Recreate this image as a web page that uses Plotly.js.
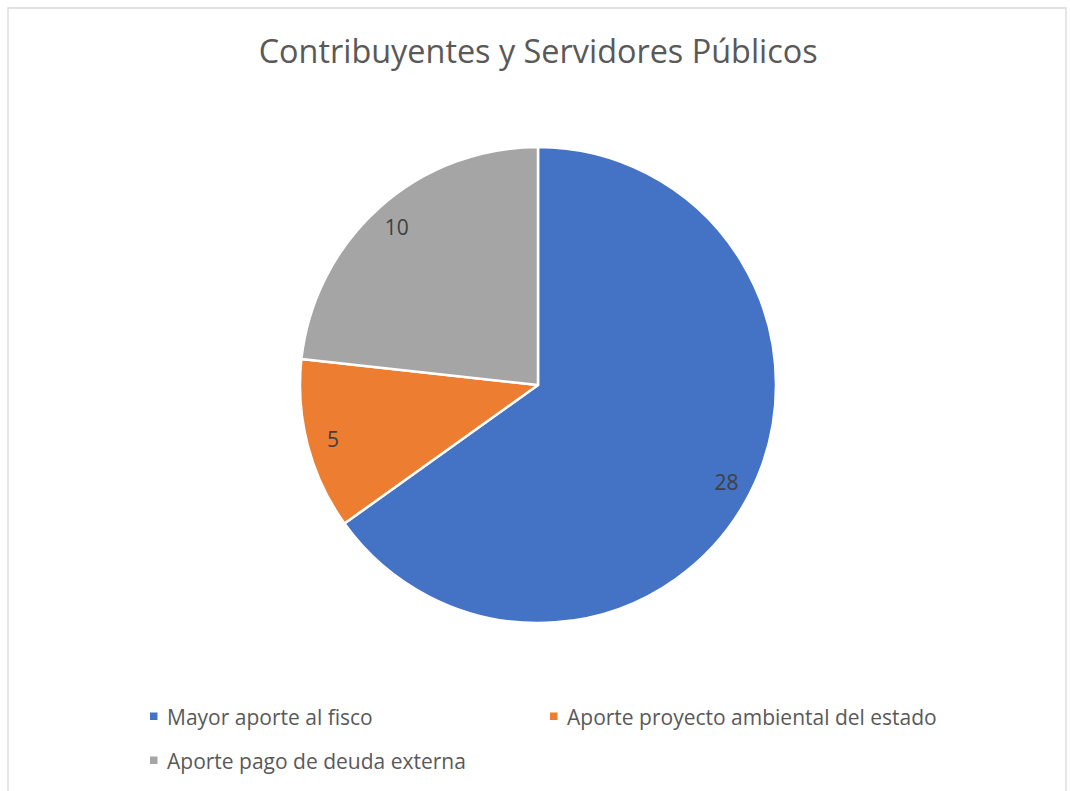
<!DOCTYPE html>
<html>
<head>
<meta charset="utf-8">
<script src="https://cdn.plot.ly/plotly-3.0.1.min.js"></script>
<style>
html,body{margin:0;padding:0;background:#fff;}
#chart{width:1070px;height:791px;}
</style>
</head>
<body>
<div id="chart"></div>
<script>
var categories = ["Mayor aporte al fisco", "Aporte proyecto ambiental del estado", "Aporte pago de deuda externa"];
var values = [28, 5, 10];
var colors = ["#4472C4", "#ED7D31", "#A5A5A5"];
var chartTitle = "Contribuyentes y Servidores Públicos";

var W = 1070, H = 791;
var FONT = "'Open Sans', 'Noto Sans', sans-serif";
function px(x){ return x / W; }
function py(y){ return 1 - y / H; }

var domain = {x: [px(300), px(776)], y: [py(623), py(147)]};

var pieTrace = {
  type: "pie",
  labels: categories,
  values: values,
  sort: false,
  direction: "clockwise",
  rotation: 0,
  domain: domain,
  marker: {colors: colors, line: {color: "#ffffff", width: 2.5}},
  textinfo: "none",
  hoverinfo: "label+value",
  showlegend: false
};

var labelRing = {
  type: "pie",
  labels: categories,
  values: values,
  sort: false,
  direction: "clockwise",
  rotation: 0,
  domain: domain,
  hole: 0.78,
  marker: {colors: categories.map(function(){return "rgba(0,0,0,0)";}), line: {width: 0}},
  textinfo: "value",
  textposition: "inside",
  insidetextorientation: "horizontal",
  textfont: {family: FONT, size: 21, color: "#404040"},
  hoverinfo: "skip",
  showlegend: false
};

// custom legend laid out like the reference (two columns)
var legendPos = [[150, 716], [550, 716], [150, 760]];
var shapes = [{
  type: "rect", xref: "paper", yref: "paper",
  x0: px(8), x1: px(1066), y0: py(800), y1: py(8),
  line: {color: "#D9D9D9", width: 1.3}, fillcolor: "rgba(0,0,0,0)"
}];
var annotations = [];
categories.forEach(function(c, i){
  var p = legendPos[i];
  shapes.push({
    type: "rect", xref: "paper", yref: "paper",
    x0: px(p[0]), x1: px(p[0] + 7.5), y0: py(p[1] + 4), y1: py(p[1] - 3.5),
    line: {width: 0}, fillcolor: colors[i]
  });
  annotations.push({
    xref: "paper", yref: "paper", x: px(p[0] + 15), y: py(p[1] + 0.5),
    xanchor: "left", yanchor: "middle", showarrow: false,
    text: c, font: {family: FONT, size: 21, color: "#595959"}
  });
});

var layout = {
  width: W, height: H,
  margin: {l: 0, r: 0, t: 0, b: 0},
  paper_bgcolor: "#ffffff",
  title: {text: chartTitle, x: 0.503, xanchor: "center", y: py(52), yanchor: "middle",
          font: {family: FONT, size: 32.4, color: "#595959"}},
  showlegend: false,
  shapes: shapes,
  annotations: annotations
};

Plotly.newPlot("chart", [pieTrace, labelRing], layout, {displayModeBar: false, staticPlot: true});
</script>
</body>
</html>
